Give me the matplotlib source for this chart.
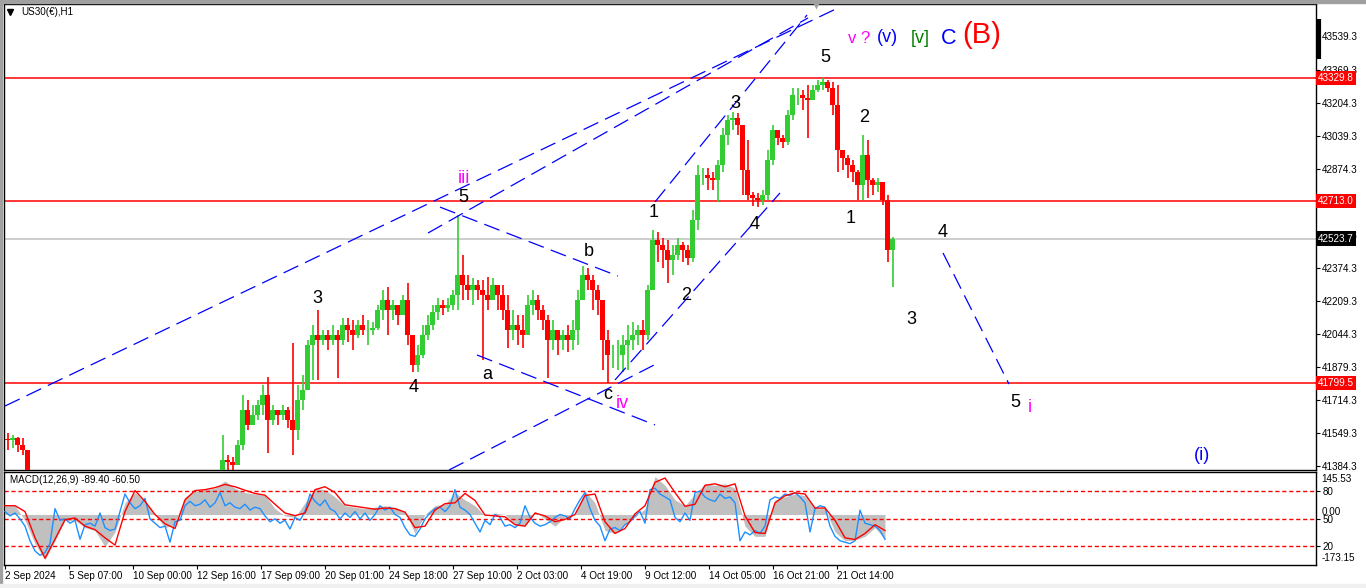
import numpy as np
import matplotlib
matplotlib.use('Agg')
import matplotlib.pyplot as plt
from matplotlib import rcParams
from matplotlib.patches import Rectangle
from matplotlib.transforms import blended_transform_factory

rcParams['font.family'] = ['Liberation Sans', 'DejaVu Sans']
rcParams['axes.unicode_minus'] = False

# US30 H1, bars grouped by 5 (x axis = bar number from 2 Sep 2024 00:00)
slot = 5
first_open = 41520
closes = [41513, 41524, 41488, 41463, 41323,
          41250, 41190, 41120, 41060, 41020, 41000, 41030, 41070, 41110, 41140,
          41110, 41130, 41160, 41190, 41170, 41140, 41110, 41090, 41130, 41170,
          41210, 41240, 41220, 41190, 41170, 41150, 41190, 41230, 41260, 41280,
          41290, 41270, 41250, 41240, 41260, 41290, 41310, 41300,
          41413, 41403, 41388, 41488, 41664, 41589, 41639, 41689, 41739, 41614,
          41664, 41639, 41664, 41614, 41564, 41714, 41764, 41990, 42040, 42015,
          42040, 42015, 42040, 42015, 42090, 42065, 42040, 42090, 42065, 42065,
          42075, 42166, 42216, 42166, 42191, 42141, 42216, 42040, 41890, 41940,
          42040, 42090, 42156, 42191, 42176, 42191, 42241, 42341, 42291, 42266,
          42291, 42266, 42241, 42216, 42291, 42241, 42166, 42065, 42090, 42065,
          42040, 42191, 42216, 42166, 42116, 42015, 42065, 42015, 42040, 42015,
          42065, 42216, 42341, 42316, 42266, 42216, 42015, 41940, 41940, 41940,
          41990, 42015, 42040, 42065, 42040, 42266, 42517, 42492, 42467, 42417,
          42442, 42492, 42467, 42427, 42617, 42843, 42843, 42828, 42818, 42893,
          43044, 43119, 43129, 43094, 42868, 42743, 42728, 42718, 42743, 42918,
          43069, 43029, 43009, 43144, 43244, 43244, 43229, 43219, 43270, 43295,
          43310, 43280, 43194, 42968, 42928, 42893, 42858, 42793, 42943, 42818,
          42793, 42808, 42718, 42467, 42523.7]
highs = [41549, 41539, 41529, 41524, 41438,
         41290, 41260, 41200, 41130, 41070, 41050, 41070, 41110, 41150, 41180,
         41160, 41170, 41200, 41230, 41220, 41190, 41150, 41130, 41170, 41210,
         41250, 41280, 41270, 41240, 41210, 41200, 41230, 41270, 41300, 41320,
         41335, 41320, 41300, 41290, 41300, 41330, 41345, 41340,
         41539, 41438, 41428, 41513, 41739, 41714, 41689, 41714, 41789, 41829,
         41689, 41664, 41689, 41679, 42000, 41789, 41839, 42015, 42090, 42166,
         42065, 42065, 42090, 42065, 42126, 42126, 42116, 42116, 42141, 42116,
         42106, 42191, 42266, 42281, 42216, 42191, 42241, 42301, 42015, 41990,
         42090, 42141, 42191, 42226, 42216, 42226, 42266, 42642, 42442, 42341,
         42326, 42316, 42316, 42331, 42326, 42291, 42291, 42241, 42166, 42141,
         42141, 42241, 42266, 42241, 42191, 42141, 42116, 42065, 42065, 42090,
         42116, 42266, 42387, 42376, 42341, 42291, 42216, 42065, 41990, 42015,
         42040, 42090, 42106, 42090, 42116, 42291, 42567, 42557, 42527, 42517,
         42492, 42527, 42507, 42492, 42667, 42893, 42878, 42878, 42858, 42918,
         43079, 43144, 43159, 43154, 43094, 43019, 42758, 42753, 42768, 42968,
         43094, 43069, 43044, 43169, 43280, 43280, 43270, 43295, 43295, 43320,
         43330, 43320, 43310, 43295, 42968, 42943, 42918, 42868, 43044, 43019,
         42828, 42828, 42808, 42743, 42530]
lows = [41463, 41473, 41453, 41438, 41313,
        41190, 41130, 41060, 41000, 40960, 40950, 40980, 41010, 41050, 41080,
        41060, 41070, 41100, 41140, 41110, 41090, 41050, 41040, 41070, 41110,
        41150, 41180, 41170, 41140, 41110, 41100, 41130, 41170, 41200, 41230,
        41240, 41220, 41200, 41190, 41210, 41240, 41260, 41250,
        41340, 41350, 41355, 41403, 41463, 41564, 41589, 41614, 41639, 41448,
        41589, 41589, 41614, 41574, 41438, 41513, 41664, 41789, 41814, 41814,
        41990, 41965, 41990, 41824, 41990, 42005, 41965, 42025, 42040, 41990,
        42040, 42065, 42116, 42040, 42116, 42090, 42141, 41990, 41854, 41854,
        41925, 42015, 42065, 42116, 42141, 42156, 42166, 42166, 42216, 42216,
        42191, 42216, 41915, 42166, 42216, 42166, 42116, 41975, 42015, 41990,
        41975, 42040, 42141, 42116, 42065, 41824, 41965, 41940, 41965, 41955,
        41965, 41990, 42216, 42266, 42166, 42141, 41864, 41799, 41875, 41864,
        41854, 41864, 41965, 41990, 41965, 42015, 42266, 42407, 42376, 42301,
        42341, 42417, 42407, 42392, 42407, 42567, 42793, 42768, 42768, 42708,
        42858, 42994, 43069, 43044, 42743, 42718, 42687, 42682, 42692, 42718,
        42893, 42994, 42978, 42994, 43119, 43194, 43169, 43029, 43219, 43259,
        43270, 43259, 43144, 42858, 42868, 42828, 42808, 42718, 42718, 42728,
        42743, 42758, 42692, 42407, 42281]

red_levels = [43329.8, 42713.0, 41799.5]
last_price = 42523.7
# 42709.3 sits fully under the 42713.0 marker, so it is left out
price_ticks = [43539.3, 43369.3, 43204.3, 43039.3, 42874.3, 42544.3,
               42374.3, 42209.3, 42044.3, 41879.3, 41714.3, 41549.3, 41384.3]

# MACD(12,26,9): histogram + signal every 10 bars, fast line every 5 bars
macd_step = 10
macd_hist = [30, 30, -20, -100, -155, -90, -20, -20, -45, -55,
             -110, -60, 40, 75, 45, 0, -45, -35, 60, 80,
             85, 90, 115, 90, 75, 70, 65, 20, -5, -10,
             40, 90, 85, 60, 30, 25, 20, 25, 30, 25,
             10, -65, 0, 30, 35, 75, 50, 30, -5, 5,
             0, -35, -40, 10, -15, -40, -10, 0, 80, 40,
             -55, -65, -30, -10, 20, 130, 100, 50, 30, 70,
             105, 100, 105, 90, -40, -75, -75, 50, 60, 70,
             65, 20, 20, -60, -90, -88, -75, -45, -85]
macd_signal = [30, 30, 10, -80, -150, -85, -18, -12, -40, -52,
               -80, -105, 10, 82, 45, 0, -32, -48, 50, 82,
               85, 92, 103, 95, 83, 72, 66, 35, 5, -4,
               5, 85, 95, 75, 33, 28, 23, 18, 22, 20,
               8, -45, -40, 15, 37, 40, 72, 48, -2, -5,
               -8, -35, -40, 5, -5, -25, -17, 0, 65, 70,
               -25, -65, -48, 2, 30, 110, 125, 75, 28, 35,
               100, 105, 95, 105, -5, -62, -65, 40, 64, 74,
               70, 22, 22, -20, -80, -86, -65, -35, -55]
fast_step = 5
macd_fast = [10, -5, 5, -15, -40, -90, -125, -140, -130, -100,
             20, -20, -15, -30, -20, -85, -35, -30, -40, 5,
             -45, -55, -50, 10, 70, 40, 20, 30, 55, -15,
             -30, -45, -40, -95, -25, -20, 30, 45, 30, 35,
             50, 25, 40, 75, 30, 40, 25, 20, 35, 15,
             25, 20, -5, -25, -15, -30, -20, -50, -10, -20,
             10, 70, 45, 30, 50, 20, 10, -15, 5, -10,
             10, -15, 5, -20, 0, 30, 15, 25, 0, -10,
             -45, -70, -75, -50, -15, 5, 20, 25, 10, 30,
             85, 25, 15, 0, -30, -60, -20, -35, 0, -10,
             -40, -35, -45, -30, 30, -10, -30, -40, -35, -25,
             -10, 0, -5, -15, 20, 50, 75, 20, -20, -40,
             -90, -50, -45, -55, -35, -25, -5, 10, -30, 85,
             90, 70, 60, 50, -10, -25, 5, -20, 75, 80,
             60, 50, 45, 70, 55, 60, 40, -90, -60, -70,
             -55, -65, -40, 50, 60, 55, 70, 65, 75, 60,
             40, -60, 20, 30, 25, -40, -75, -90, -95, -100,
             -90, 15, -30, -35, -40, -55, -85]
macd_levels = [80, -14, -107]
macd_level_labels = ['80', '50', '20']

time_labels = ['2 Sep 2024', '5 Sep 07:00', '10 Sep 00:00', '12 Sep 16:00',
               '17 Sep 09:00', '20 Sep 01:00', '24 Sep 18:00', '27 Sep 10:00',
               '2 Oct 03:00', '4 Oct 19:00', '9 Oct 12:00', '14 Oct 05:00',
               '16 Oct 21:00', '21 Oct 14:00']
bars_per_label = 64

# trend lines drawn on the chart: (bar, price) -> (bar, price)
trend_lines = [((0, 41684), (835, 43686)),
               ((423, 42552), (803, 43631)),
               ((650, 42708), (802, 43646)),
               ((444, 41363), (655, 41905)),
               ((610, 41815), (775, 42753)),
               ((472, 41940), (650, 41589)),
               ((435, 42682), (613, 42336)),
               ((938, 42452), (1004, 41794))]

# Elliott wave labels: text, bar, price, colour
wave_labels = [('5', 820, 43435, 'black'), ('v ?', 854, 43530, '#ff00ff'),
               ('(v)', 882, 43535, '#0000ff'), ('[v]', 915, 43530, '#008000'),
               ('C', 944, 43530, '#0000ff'), ('(B)', 977, 43545, '#ff0000'),
               ('3', 730, 43204, 'black'), ('2', 859, 43134, 'black'),
               ('1', 649, 42657, 'black'), ('4', 750, 42597, 'black'),
               ('1', 846, 42627, 'black'), ('4', 938, 42557, 'black'),
               ('iii', 459, 42828, '#ff00ff'), ('5', 458, 42728, 'black'),
               ('b', 584, 42457, 'black'), ('3', 312, 42221, 'black'),
               ('2', 681, 42236, 'black'), ('3', 906, 42116, 'black'),
               ('a', 482, 41840, 'black'), ('4', 409, 41775, 'black'),
               ('c', 603, 41744, 'black'), ('iv', 617, 41699, '#ff00ff'),
               ('5', 1010, 41704, 'black'), ('i', 1025, 41679, '#ff00ff'),
               ('(i)', 1197, 41438, '#0000ff')]
label_sizes = {'(B)': 21, 'C': 15.5, '(v)': 13, '[v]': 13, 'v ?': 12}

# ---------------------------------------------------------------------------
W, H = 1366, 588
fig = plt.figure(figsize=(W / 100, H / 100), dpi=100)
fig.patch.set_facecolor('white')

def px_axes(x0, y0, x1, y1):
    return fig.add_axes([x0 / W, 1 - y1 / H, (x1 - x0) / W, (y1 - y0) / H])

ax = px_axes(4, 4, 1316, 470)
ax2 = px_axes(4, 472, 1316, 565)
xlim = (-1, 1311)
tick_fs = 7.1

# candles
c = np.array(closes, dtype=float)
hi = np.array(highs, dtype=float)
lo = np.array(lows, dtype=float)
o = np.r_[first_open, c[:-1]]
xs = slot * np.arange(len(c)) + slot / 2
up = c >= o
top = np.maximum(hi, np.maximum(o, c))
bot = np.minimum(lo, np.minimum(o, c))
for color, m in (('#32cd32', up), ('#ff0000', ~up)):
    ax.vlines(xs[m], bot[m], top[m], color=color, lw=1.2, zorder=3)
    ax.bar(xs[m], np.abs(c - o)[m], bottom=np.minimum(o, c)[m], width=4.2,
           color=color, lw=0, zorder=3)

for lvl in red_levels:
    ax.axhline(lvl, color='#ff0000', lw=1.1, zorder=2)
ax.axhline(last_price, color='#c0c0c0', lw=1.1, zorder=1)

for (x0, y0), (x1, y1) in trend_lines:
    ax.plot([x0, x1], [y0, y1], color='#0000ff', lw=0.9, ls=(0, (13, 6)), zorder=4)

for txt, bx, py, col in wave_labels:
    ax.text(bx, py, txt, color=col, fontsize=label_sizes.get(txt, 13),
            ha='center', va='center', zorder=5)

ax.set_xlim(*xlim)
ax.set_ylim(41363, 43701)
ax.set_xticks([])
ax.yaxis.tick_right()
ax.set_yticks(price_ticks)
ax.set_yticklabels([f'{v:.1f}' for v in price_ticks], fontsize=tick_fs)
ax.tick_params(axis='y', length=3, width=0.8, pad=1.5, direction='out')

tr = blended_transform_factory(ax.transAxes, ax.transData)
for lvl in red_levels:
    ax.text(1.0015, lvl, f'{lvl:.1f}', transform=tr, ha='left', va='center',
            fontsize=tick_fs, color='white', zorder=10, clip_on=False,
            bbox=dict(boxstyle='square,pad=0.22', fc='#ff0000', ec='none'))
ax.text(1.0015, last_price, f'{last_price:.1f}', transform=tr, ha='left',
        va='center', fontsize=tick_fs, color='white', zorder=10, clip_on=False,
        bbox=dict(boxstyle='square,pad=0.22', fc='black', ec='none'))

ax.text(0.013, 0.983, 'US30(€),H1', transform=ax.transAxes, fontsize=tick_fs,
        ha='left', va='center')
ax.plot([0.0048], [0.983], marker='v', ms=4, color='black',
        transform=ax.transAxes, clip_on=False)
ax.plot([811], [1.0], marker='v', ms=7, color='#a0a0a0', mec='none',
        transform=blended_transform_factory(ax.transData, ax.transAxes),
        clip_on=False, zorder=6)
ax.plot([1.0022, 1.0022], [0.882, 0.968], color='black', lw=3,
        transform=ax.transAxes, clip_on=False, solid_capstyle='butt')

# MACD panel
xm = macd_step * np.arange(len(macd_hist))
xf = fast_step * np.arange(len(macd_fast))
ax2.fill_between(xm, 0, macd_hist, color='#c0c0c0', lw=0, zorder=1)
for lvl in macd_levels:
    ax2.axhline(lvl, color='#ff0000', lw=1, ls=(0, (3, 2)), zorder=2)
ax2.plot(xf, macd_fast, color='#1e90ff', lw=1, zorder=3)
ax2.plot(xm, macd_signal, color='#ff0000', lw=1, zorder=4)
ax2.set_xlim(*xlim)
ax2.set_ylim(-173.15, 145.53)
ax2.yaxis.tick_right()
ax2.set_yticks(macd_levels)
ax2.set_yticklabels(macd_level_labels, fontsize=tick_fs)
ax2.tick_params(axis='y', length=3, width=0.8, pad=1.5)
tr2 = blended_transform_factory(ax2.transAxes, ax2.transData)
for val, txt in ((121, '145.53'), (8, '0.00'), (-150, '-173.15')):
    ax2.text(1.004, val, txt, transform=tr2, ha='left', va='center',
             fontsize=tick_fs, clip_on=False)
ax2.text(0.0045, 0.91, 'MACD(12,26,9) -89.40 -60.50', transform=ax2.transAxes,
         fontsize=tick_fs, ha='left', va='center')

ax2.set_xticks(bars_per_label * np.arange(len(time_labels)))
ax2.set_xticklabels(time_labels, fontsize=tick_fs, ha='left')
ax2.tick_params(axis='x', length=3, width=0.8, pad=1.5, direction='out')

for a in (ax, ax2):
    for s in a.spines.values():
        s.set_color('black')
        s.set_linewidth(1)

fig.patches.append(Rectangle((0, 1 - 2.5 / H), 1, 2.5 / H, transform=fig.transFigure,
                             color='#a0a0a0', zorder=0))
fig.patches.append(Rectangle((0, 0), 2 / W, 1, transform=fig.transFigure,
                             color='#a0a0a0', zorder=0))
fig.patches.append(Rectangle((0, 0), 1, 4 / H, transform=fig.transFigure,
                             color='#f0f0f0', zorder=0))

fig.savefig('out.png', dpi=100)
